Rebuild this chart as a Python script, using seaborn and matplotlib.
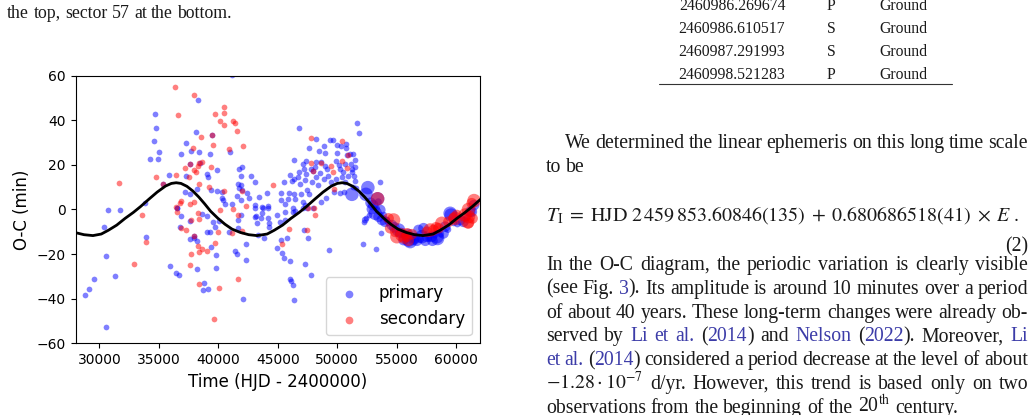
import re
import numpy as np
import pandas as pd
import matplotlib
matplotlib.use("Agg")
import matplotlib.pyplot as plt
from matplotlib.lines import Line2D
import seaborn as sns

sns.set_style("ticks", {"axes.edgecolor": "black", "xtick.color": "black",
                        "ytick.color": "black", "axes.labelcolor": "black",
                        "text.color": "black"})
plt.rcParams["font.family"] = ["DejaVu Sans"]
plt.rcParams["mathtext.fontset"] = "stix"

# ---- O-C data (HJD - 2400000, minutes) ----
prim_t = [41170, 38260, 34680, 34730, 34620, 35040, 34230, 34930, 37250, 38090, 37670, 38400,
          36830, 39300, 40950, 38480, 35880, 37250, 39070, 39100, 39880, 41700, 41980, 41900,
          42710, 43080, 41650, 41930, 41700, 41980, 42380, 44080, 43410, 37590, 37220, 38200,
          39410, 39860, 40330, 40300, 40390, 40580, 41140, 41590, 41930, 42540, 43100, 43660,
          44170, 33860, 36550, 39440, 37590, 35350,
          30730, 31760, 30420, 33950, 30590, 35910, 36470, 36690, 31340, 29500, 29160, 28770,
          30590, 38200, 38820, 38710, 39160, 39770, 39770, 39380, 38230, 37950, 37590, 39040,
          39270, 39690, 39550, 38620, 39070, 37640, 36830, 36750, 36500, 40920, 41400, 41590,
          42320, 42320, 42100, 41680, 41870, 41620, 40080, 43130, 43330, 43800, 43100, 43750,
          44170, 43660, 43100, 44170, 43550, 43270, 44220, 44220, 37920,
          44930, 45630, 46250, 46410, 47090, 47450, 47930, 45630, 45150, 45770, 45270, 44930,
          45350, 45490, 45990, 47310, 47760, 46020, 46110, 46250, 46360, 47510, 47230, 49270,
          52130, 53250, 53690, 52210, 52410, 52630,
          46750, 51680, 51850, 48230, 47590, 49350, 49610, 49940, 50330, 50730, 48910, 48490,
          48930, 50000, 50730, 51090, 51290, 46360, 47370, 47110, 48210, 48630, 48990, 49910,
          50140, 50610, 51510, 51120, 51230, 47170, 46810, 47790, 48090, 49160, 50250, 50470,
          51260, 51480, 46670, 46330, 45990, 47390, 48180, 48570, 49190, 49890, 50390, 50920,
          51400, 51510, 45520, 46160, 46830, 47310, 47870, 48370, 48850, 49440, 50670, 51310,
          51540, 45240, 45910, 46390, 46970, 47480, 47620, 45850, 45290, 46470, 47140, 45600,
          47310, 46300, 48630, 49050, 49690, 50250, 50530, 53610, 50810, 47950]
prim_oc = [60.5, 48.9, 42.7, 36.5, 30.7, 25.8, 22.5, 22.5, 29.8, 34.7, 26.2, 25.6,
           24.9, 24.7, 25.9, 20.7, 15.3, 15.1, 16.0, 14.4, 17.7, 18.3, 18.9, 15.1,
           15.1, 12.2, 11.3, 10.8, 9.5, 8.7, 7.2, 7.2, 5.6, 6.9, 7.7, 9.0,
           8.7, 8.1, 7.7, 5.3, 4.2, 2.4, 2.4, 6.2, 4.2, 5.3, 2.0, 1.1,
           1.5, 3.0, 0.8, 33.2, 20.2, 11.4,
           -0.4, -0.4, -8.0, -12.3, -20.9, -25.5, -28.3, -29.4, -29.8, -31.0, -35.5, -38.2,
           -52.7, -26.8, -32.8, -36.1, -35.5, -26.1, -20.4, -16.8, -14.3, -12.9, -13.1, -10.2,
           -10.1, -7.8, -5.6, -2.0, -2.8, -5.0, -2.9, -7.7, 0.8, -10.2, -18.6, -20.0,
           -15.6, -22.8, -40.0, -4.7, -2.3, -8.4, -5.3, -2.8, -11.3, -12.6, 0.8, 0.8,
           0.8, -1.4, -3.2, -3.7, -3.7, -6.2, -6.2, -8.0, -12.0,
           -2.5, -1.0, -1.3, -0.7, 0.8, 0.5, 0.5, -4.7, -5.5, -12.6, -13.7, -17.4,
           -19.7, -21.6, -23.1, -24.6, -29.5, -31.2, -32.1, -33.9, -40.6, -12.9, -9.2, -18.2,
           -15.6, -17.9, -10.4, -5.5, -3.7, -2.5,
           36.7, 38.6, 34.4, 31.4, 27.6, 31.3, 31.3, 28.8, 28.3, 29.3, 28.6, 26.4,
           25.2, 25.5, 27.7, 24.7, 24.9, 22.2, 21.7, 20.2, 21.1, 21.1, 19.5, 21.9,
           19.9, 20.5, 22.0, 20.2, 18.1, 18.0, 16.8, 18.0, 19.2, 18.0, 18.0, 16.9,
           16.9, 18.9, 14.7, 13.8, 15.4, 16.0, 14.7, 16.2, 15.0, 13.7, 14.7, 15.0,
           15.1, 12.8, 12.5, 12.8, 11.4, 13.1, 12.5, 11.0, 13.5, 12.5, 12.3, 10.2,
           9.5, 7.5, 7.2, 6.8, 6.8, 8.7, 6.9, 4.7, 4.4, 4.7, 3.5, 2.3,
           2.0, 0.5, 3.5, 5.1, 7.7, 7.5, 8.0, 12.3, 24.4, 17.4]

# CCD-era primary minima with relative weight (1 = low, 3 = high)
prim_ccd_t = [51230, 52570, 52410, 52910, 53190, 53470, 53750, 54030, 54590, 55150, 55990,
              56550, 57110, 57250, 57950, 58430, 59070, 59490, 60330, 61310, 59570, 57530,
              56410, 54170, 53610, 52350, 61170, 58930, 58370, 56830, 55570, 56130, 53000,
              53300, 53900, 54300, 54800, 55300, 55600, 56000, 56300, 56700, 57000, 57400,
              57700, 58000, 58200, 58700, 59300, 59800, 60100, 60600, 60900, 61500, 53450,
              52800, 53390]
prim_ccd_oc = [6.8, 9.8, 6.8, 0.2, -1.7, -3.2, -4.7, -5.5, -7.0, -9.2, -13.7,
               -12.9, -12.2, -8.4, -12.2, -13.0, -7.7, -1.7, -4.7, -1.0, -2.5, -12.2,
               -13.7, -4.7, -0.2, -4.7, -1.0, -10.7, -12.2, -9.2, -13.7, -14.4, 2.0,
               0.5, -2.5, -6.0, -8.0, -10.5, -11.5, -11.0, -13.5, -14.0, -13.5, -14.0,
               -13.0, -14.0, -11.5, -11.0, -9.0, -6.0, -6.5, -5.5, -3.5, 2.0, 3.5,
               3.0, 4.8]
prim_ccd_w = [3, 3, 3, 2, 3, 2, 2, 2, 2, 3, 3,
              2, 3, 2, 2, 3, 2, 3, 2, 2, 3, 2,
              2, 1, 2, 1, 2, 2, 3, 2, 2, 3, 2,
              1, 1, 1, 2, 2, 1, 2, 1, 2, 1, 2,
              1, 2, 1, 1, 1, 1, 1, 2, 1, 2, 1,
              2, 3]

sec_t = [36380, 37980, 36580, 40500, 39720, 40440, 40160, 41200, 41370, 40470, 41590, 38570,
         39440, 39550, 37900, 42040, 40860, 37590, 38400, 38600, 38320, 39410, 37220, 38090,
         37980, 36410, 34790, 31680, 37530, 38340, 39240, 40500, 41980, 44620, 35350, 36890,
         36800, 37980, 37620, 36410, 40160, 42320,
         33580, 33950, 32910, 36500, 36830, 37250, 37670, 38290, 38400, 37920, 38320, 38600,
         38400, 39040, 37670, 37590, 38340, 39660, 39690, 40050, 39940, 41260, 41620, 41960,
         41620, 41140,
         47790, 50360, 50890, 47810, 48650, 49440, 49630, 50780, 50390, 47950, 49690, 47530,
         45350, 45970, 47450, 48150, 48070]
sec_oc = [54.8, 51.2, 42.5, 46.1, 42.7, 43.4, 39.8, 39.7, 38.6, 37.7, 35.2, 32.5,
          33.2, 29.1, 27.7, 28.3, 27.1, 20.2, 21.0, 21.1, 19.5, 19.0, 18.4, 16.6,
          17.5, 15.6, 14.4, 12.0, 14.4, 11.4, 9.9, 8.4, 8.4, 11.0, 11.4, 3.9,
          2.7, 3.3, 2.3, 1.0, -0.2, 1.5,
          -2.5, -14.6, -24.6, -1.1, -8.4, -9.3, -4.7, -1.6, -4.4, -12.0, -16.4, -17.7,
          -19.1, -18.5, -20.1, -25.0, -33.3, -49.0, -15.2, -35.4, -10.2, 0.2, -2.5, -9.6,
          -31.3, -10.4,
          31.9, 30.5, 24.4, 20.7, 20.7, 19.6, 16.9, 18.7, 21.7, 17.4, 9.0, 0.8,
          -15.6, -8.7, -9.2, -2.5, 0.5]

sec_ccd_t = [53390, 54310, 54730, 54450, 54870, 55430, 55850, 56270, 57530, 57810, 58510,
             58790, 59350, 59770, 60050, 60750, 61030, 60970, 61370, 59910, 58090, 55010,
             55850, 61030, 61030, 61310, 55600, 56000, 58300, 61500]
sec_ccd_oc = [4.8, -4.0, -4.7, -8.4, -10.0, -11.4, -12.2, -11.1, -10.0, -9.2, -8.4,
              -6.2, -5.5, -4.0, -2.5, -2.5, 0.0, -5.5, -4.0, -4.0, -9.2, -12.2,
              -10.7, -3.2, -6.2, 2.8, -13.0, -14.0, -8.0, 4.0]
sec_ccd_w = [3, 2, 3, 2, 2, 3, 2, 2, 2, 3, 2,
             3, 2, 2, 2, 3, 3, 3, 2, 3, 2, 3,
             2, 3, 2, 2, 2, 2, 2, 3]

# fitted light-time curve
curve_t = [28000, 28700, 29450, 30150, 30750, 31450, 32150, 32850, 33450, 34150, 34850,
           35550, 36050, 36450, 36850, 37350, 37850, 38350, 38850, 39350, 39950, 40550,
           41150, 41850, 42550, 43250, 44100, 44700, 45400, 46100, 46800, 47400, 48100,
           48800, 49500, 50000, 50400, 50800, 51300, 51800, 52300, 52800, 53300, 53900,
           54500, 55100, 55800, 56500, 57200, 58050, 58650, 59350, 60050, 60750, 61350,
           62050]
curve_oc = [-10.4, -11.3, -11.7, -11.0, -9.3, -7.0, -4.0, -1.3, 1.3, 4.6, 7.8,
            10.5, 11.7, 12.0, 11.7, 10.4, 8.3, 5.6, 2.5, -0.8, -3.9, -6.6,
            -8.8, -10.3, -11.3, -11.7, -11.0, -9.3, -7.0, -4.0, -1.3, 1.3, 4.6,
            7.8, 10.5, 11.7, 12.0, 11.7, 10.4, 8.3, 5.6, 2.5, -0.8, -3.9,
            -6.6, -8.8, -10.3, -11.3, -11.7, -11.0, -9.3, -7.0, -4.0, -1.3, 1.3,
            4.6]

# ---- figure ----
W, H, DPI = 1035, 415, 100
fig = plt.figure(figsize=(W / DPI, H / DPI), dpi=DPI)
ax = fig.add_axes([75.7 / W, 1 - 343.3 / H, (480 - 75.7) / W, (343.3 - 75.7) / H])

sns.scatterplot(x=prim_t, y=prim_oc, color="blue", alpha=0.5, s=17, linewidth=0,
                label="primary", ax=ax, zorder=2)
sns.scatterplot(x=prim_ccd_t, y=prim_ccd_oc, size=prim_ccd_w, sizes=(24, 95),
                size_norm=(1, 3), color="blue", alpha=0.5, linewidth=0, legend=False,
                ax=ax, zorder=2)
sns.scatterplot(x=sec_t, y=sec_oc, color="red", alpha=0.5, s=17, linewidth=0,
                label="secondary", ax=ax, zorder=3)
sns.scatterplot(x=sec_ccd_t, y=sec_ccd_oc, size=sec_ccd_w, sizes=(24, 95),
                size_norm=(1, 3), color="red", alpha=0.5, linewidth=0, legend=False,
                ax=ax, zorder=3)
sns.lineplot(x=curve_t, y=curve_oc, color="black", lw=2, ax=ax, zorder=5)

ax.set_xlim(28000, 62000)
ax.set_ylim(-60, 60)
ax.set_xticks([30000, 35000, 40000, 45000, 50000, 55000, 60000])
ax.set_yticks([-60, -40, -20, 0, 20, 40, 60])
ax.tick_params(labelsize=10, length=3.5, width=0.8)
for sp in ax.spines.values():
    sp.set_linewidth(0.8)
ax.set_xlabel("Time (HJD - 2400000)", fontsize=12)
ax.set_ylabel("O-C (min)", fontsize=12)
ax.legend(loc="lower right", fontsize=12, markerscale=1.35)

# ---- surrounding page text ----
SERIF = "Liberation Serif"
BLUE = "#3c3ca8"
INK = "#1a1a1a"
fig.canvas.draw()
renderer = fig.canvas.get_renderer()


def text_width(s, size):
    t = fig.text(0, 0, s, fontsize=size, family=SERIF)
    w = t.get_window_extent(renderer).width
    t.remove()
    return w


def pieces(word):
    out = []
    for m in re.finditer(r"\[([^\]]*)\]|([^\[\]]+)", word):
        if m.group(1) is not None:
            out.append((m.group(1), BLUE))
        else:
            out.append((m.group(2), INK))
    return out


def put_line(line, x0, x1, base, size, justify=True):
    words = [pieces(w) for w in line.split(" ")]
    widths = [[text_width(p, size) for p, _ in w] for w in words]
    total = sum(sum(w) for w in widths)
    if justify and len(words) > 1:
        gap = (x1 - x0 - total) / (len(words) - 1)
    else:
        gap = 0.25 * size * DPI / 72
    x = x0
    for w, ws in zip(words, widths):
        for (p, c), pw in zip(w, ws):
            fig.text(x / W, 1 - base / H, p, fontsize=size, family=SERIF, color=c,
                     va="baseline")
            x += pw
        x += gap


put_line("the top, sector 57 at the bottom.", 7, 240, 18.5, 12.8, justify=False)

table_rows = [("2460986.269674", "P", "Ground"), ("2460986.610517", "S", "Ground"),
              ("2460987.291993", "S", "Ground"), ("2460998.521283", "P", "Ground")]
for i, (hjd, kind, site) in enumerate(table_rows):
    yb = 1 - (10 + 23 * i) / H
    fig.text(732 / W, yb, hjd, fontsize=11.3, family=SERIF, color=INK, ha="center", va="baseline")
    fig.text(831 / W, yb, kind, fontsize=11.3, family=SERIF, color=INK, ha="center", va="baseline")
    fig.text(903.5 / W, yb, site, fontsize=11.3, family=SERIF, color=INK, ha="center", va="baseline")
fig.add_artist(Line2D([659 / W, 951.7 / W], [1 - 84.3 / H] * 2, color="#333333", lw=0.8))

BODY = 14.2
X0, X1 = 546, 1028
put_line("We determined the linear ephemeris on this long time scale", 565, X1, 148, BODY)
put_line("to be", X0, X1, 172, BODY, justify=False)
fig.text(782.5 / W, 1 - 221 / H,
         r"$T_{\mathrm{I}} \;=\; \mathrm{HJD}\ 2\,459\,853.60846(135) \;+\; 0.680686518(41) \;\times\; E\ .$",
         fontsize=14.4, color=INK, ha="center", va="baseline")
fig.text(X1 / W, 1 - 251 / H, "(2)", fontsize=BODY, family=SERIF, color=INK,
         ha="right", va="baseline")
body_lines = [
    "In the O-C diagram, the periodic variation is clearly visible",
    "(see Fig. [3]). Its amplitude is around 10 minutes over a period",
    "of about 40 years. These long-term changes were already ob-",
    "served by [Li] [et] [al.] ([2014]) and [Nelson] ([2022]). Moreover, [Li]",
    "[et] [al.] ([2014]) considered a period decrease at the level of about",
    r"$-1.28\cdot10^{-7}$ d/yr. However, this trend is based only on two",
]
LEAD = 23.8
for i, line in enumerate(body_lines):
    put_line(line, X0, X1, 270 + LEAD * i, BODY)
put_line(r"observations from the beginning of the 20$^{\mathrm{th}}$ century.",
         X0, X1, 270 + LEAD * 6, BODY, justify=False)

fig.savefig("out.png", dpi=DPI)
